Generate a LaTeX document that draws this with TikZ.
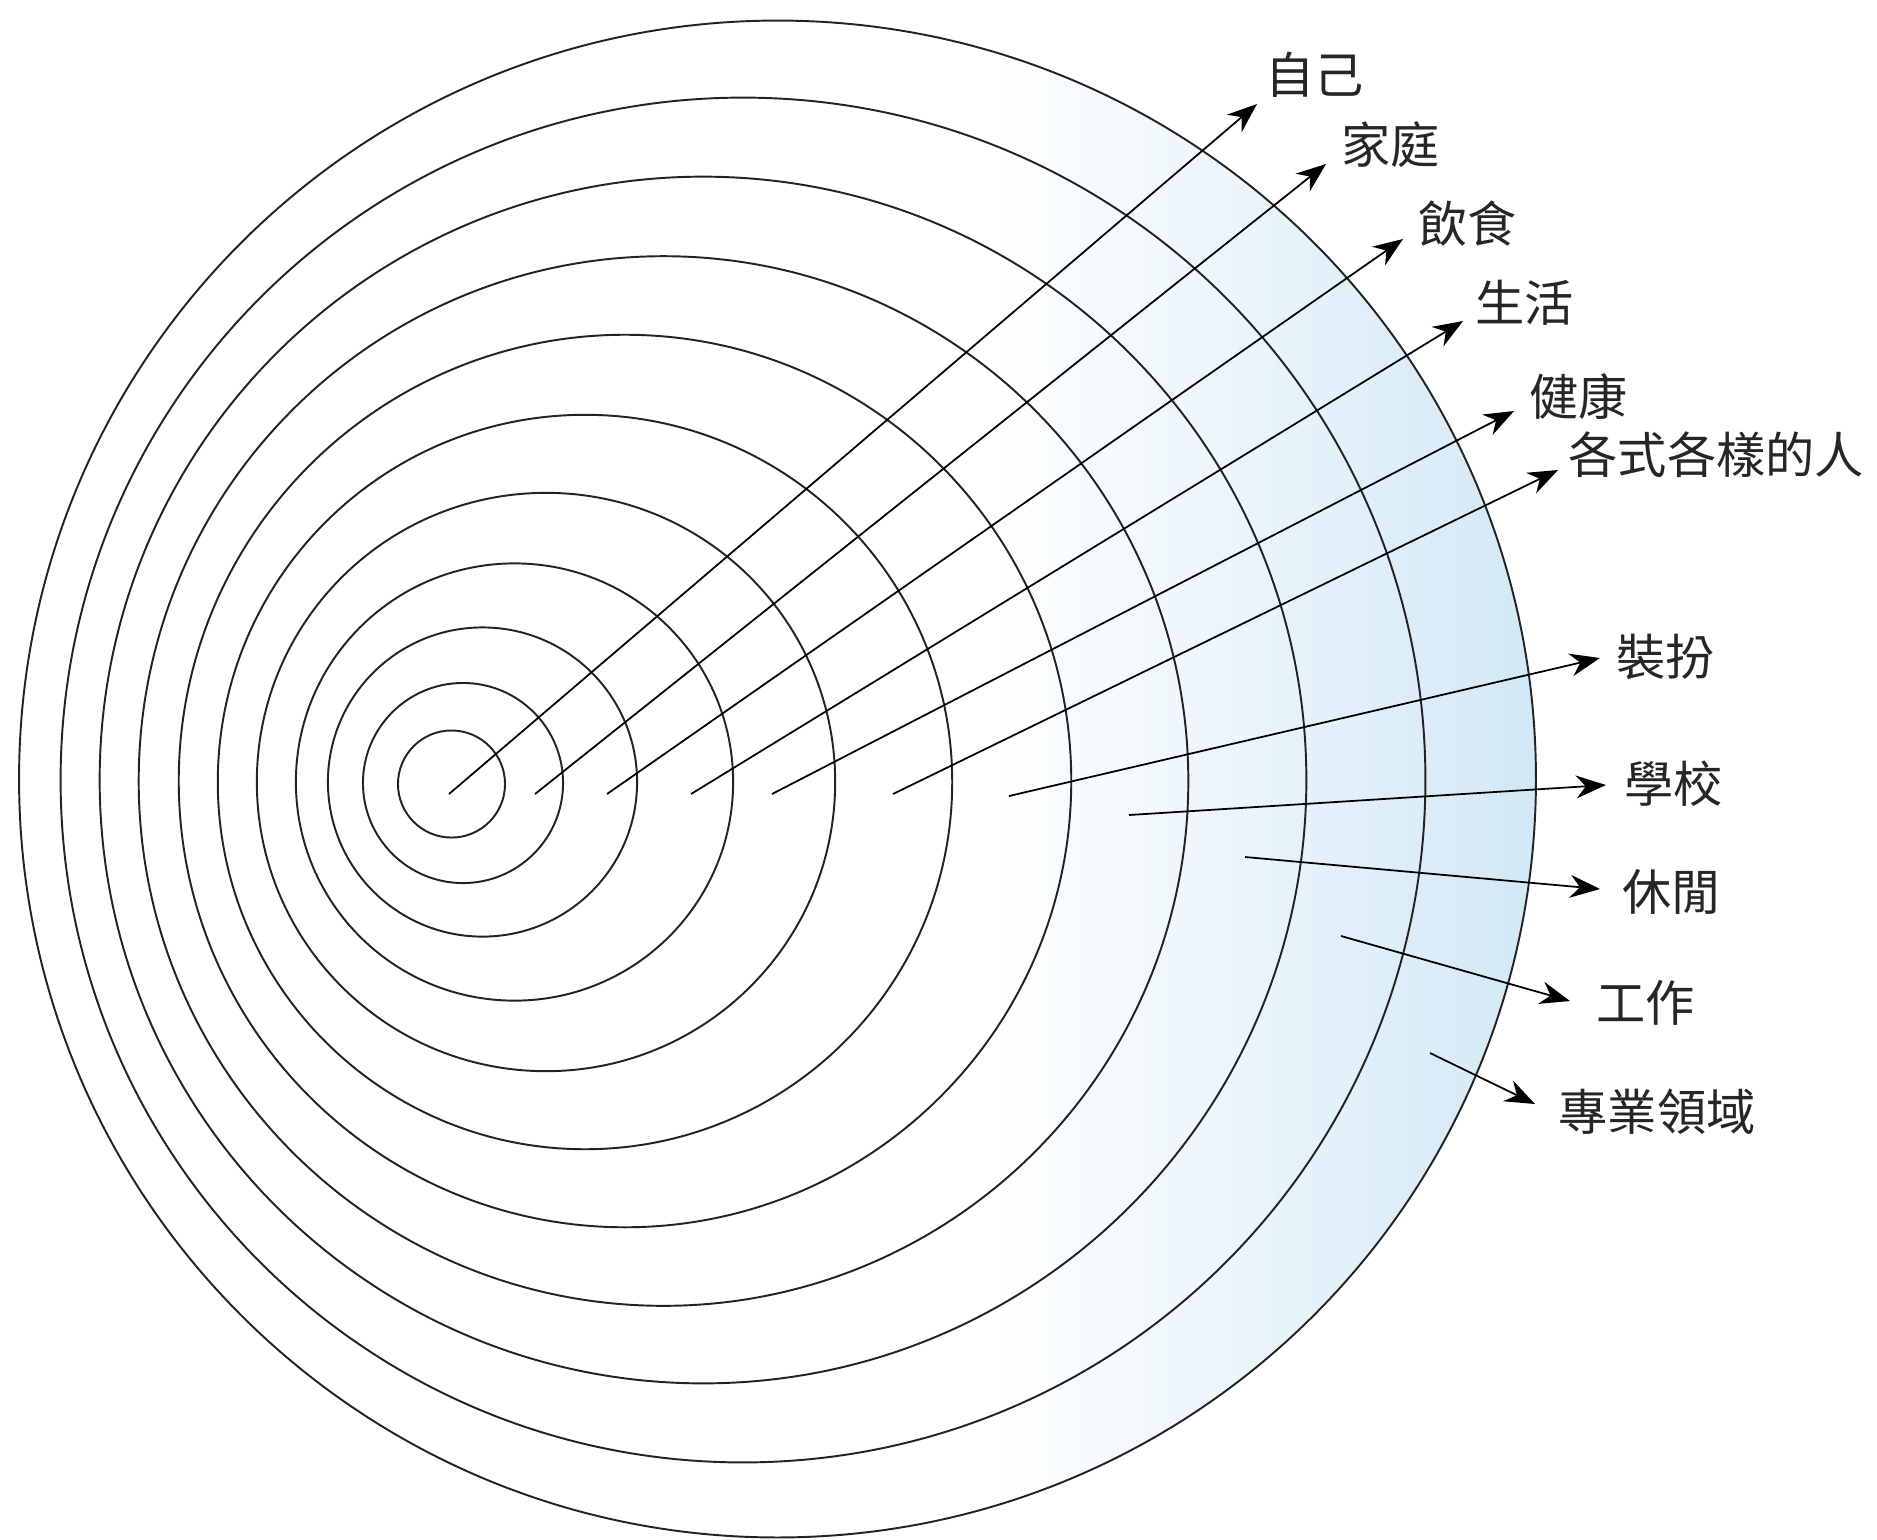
\documentclass[tikz,border=0pt]{standalone}
\usepackage{fontspec}
\newfontfamily\cjk{Noto Sans CJK TC}
\usetikzlibrary{arrows.meta}
\definecolor{lb}{RGB}{210,232,246}
\definecolor{ringc}{RGB}{35,35,35}
\pgfdeclarehorizontalshading{ringshade}{100bp}{color(0bp)=(white); color(57bp)=(white); color(75bp)=(lb); color(100bp)=(lb)}
\begin{document}
\begin{tikzpicture}[x=0.01cm,y=-0.01cm,
  ring/.style={draw=ringc,line width=0.55pt},
  conn/.style={draw=black,line width=0.5pt,-{Stealth[length=8.5pt,width=6.5pt]}},
  lab/.style={font=\cjk\fontsize{14pt}{16pt}\selectfont,inner sep=0pt,text=black!85,anchor=west}]
\useasboundingbox (0,0) rectangle (1877,1539);
% shaded outer disc
\shade[shading=ringshade] (777.5,779) circle[radius=7.58cm];
% rings
\draw[ring] (451.5,784) circle[radius=0.535cm];
\draw[ring] (463,783) circle[radius=1.00cm];
\draw[ring] (482.5,782) circle[radius=1.545cm];
\draw[ring] (514.5,782) circle[radius=2.185cm];
\draw[ring] (546,782) circle[radius=2.89cm];
\draw[ring] (585,782) circle[radius=3.67cm];
\draw[ring] (625,781) circle[radius=4.46cm];
\draw[ring] (663.5,781) circle[radius=5.245cm];
\draw[ring] (703,780) circle[radius=6.03cm];
\draw[ring] (743,780) circle[radius=6.82cm];
\draw[ring] (777.5,779) circle[radius=7.58cm];
% start and end points
\coordinate (s1) at (449,794);   \coordinate (e1) at (1257,104);
\coordinate (s2) at (535,794);   \coordinate (e2) at (1326,164);
\coordinate (s3) at (607,794);   \coordinate (e3) at (1403,239);
\coordinate (s4) at (691,794);   \coordinate (e4) at (1463,321);
\coordinate (s5) at (772,794);   \coordinate (e5) at (1514,411);
\coordinate (s6) at (893,794);   \coordinate (e6) at (1558,470);
\coordinate (s7) at (1009,796);  \coordinate (e7) at (1600,658);
\coordinate (s8) at (1129,815);  \coordinate (e8) at (1606,785);
\coordinate (s9) at (1245,857);  \coordinate (e9) at (1600,889);
\coordinate (s10) at (1341,936); \coordinate (e10) at (1570,1001);
\coordinate (s11) at (1430,1053);\coordinate (e11) at (1535,1104);
% labels
\node[lab] (l1) at (1265,75) {自己};
\node[lab] (l2) at (1341,145) {家庭};
\node[lab] (l3) at (1418,224) {飲食};
\node[lab] (l4) at (1475,303) {生活};
\node[lab] (l5) at (1529,397) {健康};
\node[lab] (l6) at (1568,455) {各式各樣的人};
\node[lab] (l7) at (1616,657) {裝扮};
\node[lab] (l8) at (1624,784) {學校};
\node[lab] (l9) at (1622,892) {休閒};
\node[lab] (l10) at (1596,1003) {工作};
\node[lab] (l11) at (1558,1112) {專業領域};
% connectors
\foreach \i in {1,...,11} { \draw[conn] (s\i) -- (e\i); }
\end{tikzpicture}
\end{document}
